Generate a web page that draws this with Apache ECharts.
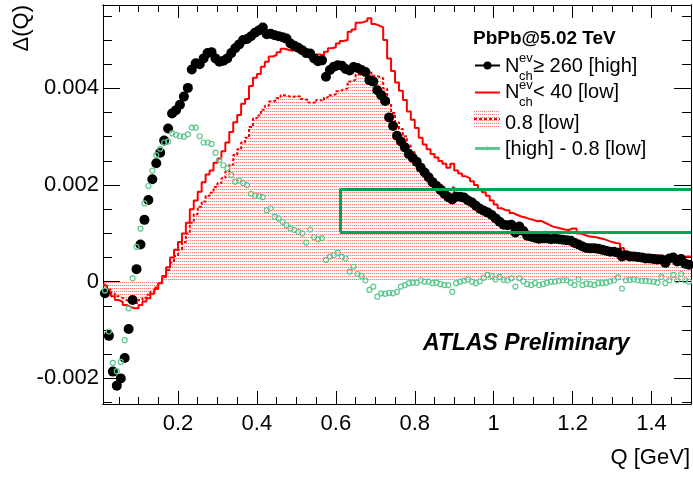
<!DOCTYPE html>
<html>
<head>
<meta charset="utf-8">
<title>Δ(Q) — PbPb@5.02 TeV</title>
<script src="https://cdn.jsdelivr.net/npm/echarts@6.0.0/dist/echarts.min.js"></script>
<style>
  html, body { margin: 0; padding: 0; background: #ffffff; }
  #chart { width: 693px; height: 477px; }
</style>
</head>
<body>
<div id="chart"></div>
<script>
// Binning in Q [GeV]: bins of 0.01 GeV from 0.01 to 1.5
const qStart = 0.01;
const binWidth = 0.01;
const qEnd = 1.5;

// Δ(Q) per bin, N_ch^ev >= 260 [high]
const high = [
  -0.00024,-0.00112,-0.00186,-0.00215,-0.00200,-0.00158,-0.00098,-0.00038,0.00026,0.00077,
  0.00128,0.00169,0.00212,0.00245,0.00267,0.00292,0.00317,0.00348,0.00355,0.00366,
  0.00383,0.00401,0.00439,0.00452,0.00450,0.00462,0.00473,0.00475,0.00462,0.00455,
  0.00457,0.00462,0.00473,0.00483,0.00491,0.00500,0.00502,0.00508,0.00515,0.00520,
  0.00526,0.00512,0.00513,0.00510,0.00508,0.00506,0.00503,0.00493,0.00488,0.00484,
  0.00479,0.00473,0.00472,0.00462,0.00456,0.00458,0.00424,0.00438,0.00445,0.00448,
  0.00447,0.00440,0.00437,0.00444,0.00442,0.00438,0.00434,0.00417,0.00414,0.00396,
  0.00386,0.00374,0.00340,0.00322,0.00302,0.00290,0.00278,0.00264,0.00256,0.00248,
  0.00236,0.00226,0.00216,0.00206,0.00198,0.00190,0.00182,0.00175,0.00170,0.00176,
  0.00176,0.00174,0.00168,0.00164,0.00157,0.00151,0.00147,0.00143,0.00138,0.00131,
  0.00124,0.00118,0.00117,0.00118,0.00102,0.00114,0.00105,0.00095,0.00093,0.00091,
  0.00089,0.00090,0.00090,0.00088,0.00089,0.00088,0.00087,0.00086,0.00085,0.00080,
  0.00077,0.00073,0.00070,0.00069,0.00069,0.00068,0.00066,0.00064,0.00062,0.00062,
  0.00060,0.00052,0.00055,0.00052,0.00052,0.00051,0.00050,0.00048,0.00048,0.00047,
  0.00046,0.00046,0.00039,0.00048,0.00050,0.00042,0.00047,0.00037,0.00035
];

// Δ(Q) per bin, N_ch^ev < 40 [low]
const low = [
  -0.00008,-0.00020,-0.00030,-0.00038,-0.00042,-0.00048,-0.00052,-0.00055,-0.00055,-0.00048,
  -0.00041,-0.00034,-0.00025,-0.00015,-0.00003,0.00012,0.00030,0.00050,0.00066,0.00082,
  0.00100,0.00122,0.00150,0.00168,0.00186,0.00206,0.00222,0.00230,0.00246,0.00255,
  0.00270,0.00288,0.00310,0.00330,0.00345,0.00368,0.00378,0.00405,0.00422,0.00430,
  0.00445,0.00455,0.00466,0.00469,0.00475,0.00482,0.00480,0.00478,0.00480,0.00479,
  0.00473,0.00470,0.00464,0.00462,0.00470,0.00468,0.00476,0.00483,0.00485,0.00493,
  0.00498,0.00500,0.00517,0.00522,0.00536,0.00537,0.00540,0.00545,0.00533,0.00530,
  0.00526,0.00500,0.00462,0.00436,0.00412,0.00395,0.00376,0.00352,0.00335,0.00318,
  0.00298,0.00284,0.00274,0.00264,0.00257,0.00250,0.00244,0.00236,0.00244,0.00230,
  0.00224,0.00218,0.00214,0.00208,0.00200,0.00192,0.00185,0.00178,0.00168,0.00160,
  0.00152,0.00148,0.00148,0.00142,0.00138,0.00135,0.00133,0.00130,0.00128,0.00125,
  0.00126,0.00122,0.00118,0.00114,0.00112,0.00110,0.00108,0.00107,0.00110,0.00110,
  0.00100,0.00097,0.00094,0.00093,0.00092,0.00090,0.00088,0.00085,0.00082,0.00080,
  0.00079,0.00070,0.00062,0.00060,0.00059,0.00058,0.00057,0.00056,0.00055,0.00055,
  0.00054,0.00053,0.00052,0.00054,0.00054,0.00052,0.00051,0.00052,0.00052
];

// Δ(Q) per bin, 0.8 [low]
const lowScaled = [
  -0.00006,-0.00016,-0.00024,-0.00030,-0.00034,-0.00038,-0.00042,-0.00044,-0.00044,-0.00038,
  -0.00033,-0.00027,-0.00020,-0.00012,-0.00002,0.00010,0.00024,0.00040,0.00053,0.00066,
  0.00082,0.00100,0.00122,0.00140,0.00155,0.00166,0.00178,0.00184,0.00196,0.00204,
  0.00214,0.00228,0.00242,0.00262,0.00274,0.00288,0.00298,0.00320,0.00338,0.00344,
  0.00356,0.00364,0.00373,0.00375,0.00380,0.00386,0.00384,0.00382,0.00384,0.00383,
  0.00378,0.00376,0.00371,0.00370,0.00376,0.00374,0.00381,0.00386,0.00388,0.00394,
  0.00398,0.00400,0.00414,0.00418,0.00429,0.00430,0.00432,0.00436,0.00426,0.00424,
  0.00421,0.00400,0.00370,0.00349,0.00330,0.00316,0.00301,0.00282,0.00268,0.00254,
  0.00238,0.00227,0.00219,0.00211,0.00206,0.00200,0.00195,0.00189,0.00195,0.00184,
  0.00179,0.00174,0.00171,0.00166,0.00160,0.00154,0.00148,0.00142,0.00134,0.00128,
  0.00122,0.00118,0.00118,0.00114,0.00110,0.00108,0.00106,0.00104,0.00102,0.00100,
  0.00101,0.00098,0.00094,0.00091,0.00090,0.00088,0.00086,0.00086,0.00088,0.00088,
  0.00080,0.00078,0.00075,0.00074,0.00074,0.00072,0.00070,0.00068,0.00066,0.00064,
  0.00063,0.00056,0.00050,0.00048,0.00047,0.00046,0.00046,0.00045,0.00044,0.00044,
  0.00043,0.00042,0.00042,0.00043,0.00043,0.00042,0.00041,0.00042,0.00042
];

// Δ(Q) per bin, [high] - 0.8 [low]
const diff = [
  -0.00018,-0.00103,-0.00168,-0.00185,-0.00166,-0.00121,-0.00055,0.00007,0.00072,0.00110,
  0.00162,0.00198,0.00230,0.00262,0.00275,0.00288,0.00290,0.00307,0.00304,0.00301,
  0.00300,0.00305,0.00319,0.00319,0.00301,0.00288,0.00288,0.00285,0.00267,0.00252,
  0.00241,0.00235,0.00221,0.00207,0.00209,0.00204,0.00200,0.00182,0.00178,0.00177,
  0.00175,0.00148,0.00152,0.00134,0.00131,0.00124,0.00117,0.00110,0.00107,0.00103,
  0.00100,0.00081,0.00108,0.00092,0.00088,0.00090,0.00045,0.00052,0.00055,0.00060,
  0.00052,0.00048,0.00021,0.00031,0.00016,0.00012,0.00003,-0.00017,-0.00010,-0.00031,
  -0.00024,-0.00025,-0.00023,-0.00024,-0.00021,-0.00010,-0.00007,-0.00003,-0.00002,-0.00002,
  0.00003,0.00000,0.00000,-0.00003,-0.00002,-0.00005,-0.00007,-0.00007,-0.00021,-0.00003,
  0.00000,0.00002,0.00005,0.00000,-0.00003,0.00001,0.00008,0.00014,0.00012,0.00005,
  0.00010,0.00004,0.00003,0.00007,-0.00010,0.00007,0.00001,-0.00005,-0.00007,-0.00003,
  -0.00007,-0.00005,-0.00002,0.00000,0.00000,0.00002,0.00003,0.00003,-0.00002,-0.00007,
  0.00005,-0.00007,-0.00004,-0.00005,-0.00007,-0.00003,-0.00003,-0.00002,0.00001,0.00003,
  0.00009,-0.00014,0.00003,0.00004,0.00005,0.00003,0.00002,0.00002,0.00001,0.00000,
  -0.00002,0.00010,-0.00003,0.00003,0.00014,0.00003,0.00016,0.00003,0.00000
];

// Axis ticks and labels
const xMajorTicks = [0.2, 0.4, 0.6, 0.8, 1, 1.2, 1.4];
const xMinorTicks = [0.05, 0.1, 0.15, 0.25, 0.3, 0.35, 0.45, 0.5, 0.55, 0.65, 0.7, 0.75,
                     0.85, 0.9, 0.95, 1.05, 1.1, 1.15, 1.25, 1.3, 1.35, 1.45];
const yMajorTicks = [-0.002, 0, 0.002, 0.004];
const yMinorTicks = [-0.0025, -0.0015, -0.001, -0.0005, 0.0005, 0.001, 0.0015,
                     0.0025, 0.003, 0.0035, 0.0045, 0.005, 0.0055];
const yMin = -0.00253;
const yMax = 0.005725;

// Highlighted Q window (open on the high-Q side)
const windowQ = [0.61, 1.5];
const windowDelta = [0.00103, 0.00192];

const FONT = '"Liberation Sans", Arial, Helvetica, sans-serif';
const RED = '#ff0000';
const GREEN_PTS = '#5cc88c';
const GREEN_BOX = '#00a651';

// Dotted pink fill used for the 0.8 [low] histogram
function dotPattern() {
  const c = document.createElement('canvas');
  c.width = 4; c.height = 3;
  const ctx = c.getContext('2d');
  ctx.fillStyle = 'rgba(255,30,30,0.6)';
  ctx.fillRect(0, 0, 1, 1);
  ctx.fillRect(2, 0, 1, 1);
  return c;
}
const fillPattern = { image: dotPattern(), repeat: 'repeat' };

const edge = i => +(qStart + binWidth * i).toFixed(4);
const centre = i => +(qStart + binWidth * (i + 0.5)).toFixed(4);
const asPoints = vals => vals.map((v, i) => [centre(i), v]);
function asHistogram(vals) {
  const pts = vals.map((v, i) => [edge(i), v]);
  pts.push([edge(vals.length), vals[vals.length - 1]]);
  return pts;
}

const tickLine = { color: '#000', width: 1 };

function xAxisDef(position, ticks, length, withLabels) {
  return {
    type: 'value', position, min: qStart, max: qEnd,
    axisLine: { show: true, onZero: false, lineStyle: tickLine },
    axisTick: { show: true, inside: true, length, customValues: ticks, lineStyle: tickLine },
    axisLabel: withLabels
      ? { show: true, customValues: ticks, margin: 9, color: '#000', fontSize: 22, fontFamily: FONT }
      : { show: false },
    splitLine: { show: false }
  };
}
function yAxisDef(position, ticks, length, withLabels) {
  return {
    type: 'value', position, min: yMin, max: yMax,
    axisLine: { show: true, onZero: false, lineStyle: tickLine },
    axisTick: { show: true, inside: true, length, customValues: ticks, lineStyle: tickLine },
    axisLabel: withLabels
      ? { show: true, customValues: ticks, margin: 4, color: '#000', fontSize: 22, fontFamily: FONT }
      : { show: false },
    splitLine: { show: false }
  };
}

function legendText(text, x, y, size, weight) {
  return {
    type: 'text', x, y, z: 100,
    style: { text, fill: '#000', font: (weight || 'normal') + ' ' + size + 'px ' + FONT,
             align: 'left', verticalAlign: 'middle' }
  };
}

const chart = echarts.init(document.getElementById('chart'), null, { renderer: 'canvas' });

chart.setOption({
  animation: false,
  backgroundColor: '#ffffff',
  grid: { left: 103, top: 5, width: 588, height: 399, outerBoundsMode: 'none' },
  xAxis: [
    xAxisDef('bottom', xMajorTicks, 13, true),
    xAxisDef('bottom', xMinorTicks, 7, false),
    xAxisDef('top', xMajorTicks, 13, false),
    xAxisDef('top', xMinorTicks, 7, false)
  ],
  yAxis: [
    yAxisDef('left', yMajorTicks, 17, true),
    yAxisDef('left', yMinorTicks, 9, false),
    yAxisDef('right', yMajorTicks, 17, false),
    yAxisDef('right', yMinorTicks, 9, false)
  ],
  series: [
    {
      name: '0.8 [low]', type: 'line', step: 'end', z: 1,
      data: asHistogram(lowScaled), showSymbol: false,
      lineStyle: { color: RED, width: 2, type: [3, 2] },
      areaStyle: { color: fillPattern, opacity: 1 }
    },
    {
      name: 'low', type: 'line', step: 'end', z: 2,
      data: asHistogram(low), showSymbol: false,
      lineStyle: { color: RED, width: 2 }
    },
    {
      name: 'high', type: 'scatter', z: 3, clip: false,
      data: asPoints(high), symbol: 'circle', symbolSize: 10,
      itemStyle: { color: '#000', opacity: 1 }
    },
    {
      name: 'diff', type: 'scatter', z: 4, clip: false,
      data: asPoints(diff), symbol: 'circle', symbolSize: 5,
      itemStyle: { color: 'rgba(255,255,255,0)', borderColor: GREEN_PTS, borderWidth: 1.2, opacity: 1 },
      markLine: {
        silent: true, symbol: 'none', label: { show: false },
        lineStyle: { color: GREEN_BOX, width: 3, type: 'solid' },
        data: [
          [{ coord: [windowQ[0], windowDelta[1]] }, { coord: [windowQ[1], windowDelta[1]] }],
          [{ coord: [windowQ[0], windowDelta[0]] }, { coord: [windowQ[1], windowDelta[0]] }],
          [{ coord: [windowQ[0], windowDelta[0]] }, { coord: [windowQ[0], windowDelta[1]] }]
        ]
      }
    }
  ],
  graphic: [
    // axis titles
    { type: 'text', x: 22, y: 5, rotation: Math.PI / 2, z: 100,
      style: { text: 'Δ(Q)', fill: '#000', font: '22px ' + FONT, align: 'right', verticalAlign: 'middle' } },
    { type: 'text', x: 690, y: 458, z: 100,
      style: { text: 'Q [GeV]', fill: '#000', font: '22px ' + FONT, align: 'right', verticalAlign: 'middle' } },
    // experiment label
    { type: 'text', x: 423, y: 344, z: 100,
      style: { text: 'ATLAS Preliminary', fill: '#000', font: 'italic bold 23px ' + FONT,
               align: 'left', verticalAlign: 'middle' } },
    // legend
    legendText('PbPb@5.02 TeV', 473, 38.5, 19, 'bold'),
    { type: 'line', z: 100, shape: { x1: 475, y1: 65.5, x2: 500, y2: 65.5 }, style: { stroke: '#000', lineWidth: 2 } },
    { type: 'circle', z: 101, shape: { cx: 487.5, cy: 65.5, r: 4 }, style: { fill: '#000' } },
    legendText('N', 505, 66, 20),
    legendText('ev', 519, 58, 13),
    legendText('ch', 519, 76, 13),
    legendText('≥ 260 [high]', 533, 66, 20),
    { type: 'line', z: 100, shape: { x1: 475, y1: 92.5, x2: 500, y2: 92.5 }, style: { stroke: RED, lineWidth: 2 } },
    legendText('N', 505, 92.5, 20),
    legendText('ev', 519, 85, 13),
    legendText('ch', 519, 102, 13),
    legendText('< 40 [low]', 533, 92.5, 20),
    { type: 'rect', z: 100, shape: { x: 474, y: 110, width: 26, height: 18 }, style: { fill: fillPattern } },
    { type: 'line', z: 101, shape: { x1: 474, y1: 119, x2: 500, y2: 119 }, style: { stroke: RED, lineWidth: 2, lineDash: [3, 2] } },
    legendText('0.8 [low]', 505, 123.5, 20),
    { type: 'line', z: 100, shape: { x1: 475, y1: 148.5, x2: 500, y2: 148.5 }, style: { stroke: GREEN_PTS, lineWidth: 3 } },
    { type: 'circle', z: 101, shape: { cx: 487.5, cy: 148.5, r: 2 }, style: { fill: GREEN_PTS } },
    legendText('[high] - 0.8 [low]', 505, 149, 20)
  ]
});
</script>
</body>
</html>
